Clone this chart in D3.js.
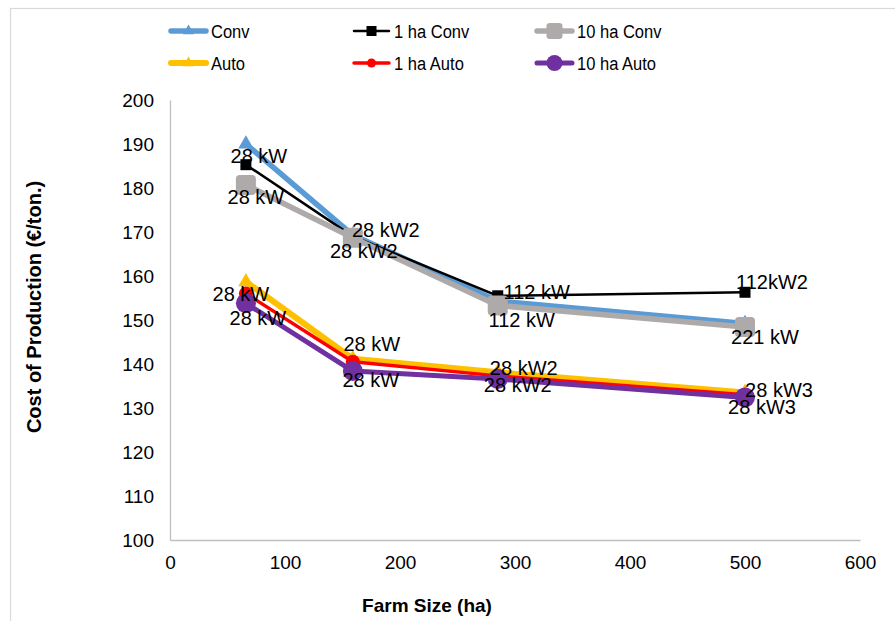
<!DOCTYPE html>
<html>
<head>
<meta charset="utf-8">
<script src="https://cdn.jsdelivr.net/npm/d3@7"></script>
<style>
  html, body { margin: 0; padding: 0; background: #fff; }
  svg { display: block; font-family: "Liberation Sans", Arial, sans-serif; }
</style>
</head>
<body>
<svg id="chart" width="895" height="621"></svg>
<script>
// ---------- data ----------
const farmSize = [66, 159, 285, 500];
const conv     = [190.0, 169.3, 154.3, 149.2];
const conv1ha  = [185.3, 169.0, 155.5, 156.3];
const conv10ha = [180.7, 168.7, 153.3, 148.4];
const auto     = [158.7, 141.2, 138.1, 133.5];
const auto1ha  = [156.0, 140.5, 137.3, 133.0];
const auto10ha = [153.8, 138.4, 136.6, 132.4];

const labels1haConv  = ["28 kW", "28 kW2", "112 kW", "112kW2"];
const labels10haConv = ["28 kW", "28 kW2", "112 kW", "221 kW"];
const labels1haAuto  = ["28 kW", "28 kW", "28 kW2", "28 kW3"];
const labels10haAuto = ["28 kW", "28 kW", "28 kW2", "28 kW3"];

const xTicks = [0, 100, 200, 300, 400, 500, 600];
const yTicks = [100, 110, 120, 130, 140, 150, 160, 170, 180, 190, 200];

const seriesNames = ["Conv", "1 ha Conv", "10 ha Conv", "Auto", "1 ha Auto", "10 ha Auto"];

// ---------- styles ----------
const styles = {
  "Conv":       {color: "#5b9bd5", width: 5.5, marker: "triangle", size: 15},
  "1 ha Conv":  {color: "#000000", width: 2.5, marker: "square",   size: 11},
  "10 ha Conv": {color: "#aeaaaa", width: 5.5, marker: "rsquare",  size: 20},
  "Auto":       {color: "#ffc000", width: 6,   marker: "triangle", size: 15},
  "1 ha Auto":  {color: "#ff0000", width: 3.5, marker: "circle",   size: 14},
  "10 ha Auto": {color: "#7030a0", width: 5,   marker: "circle",   size: 20}
};
const legendStyles = {
  "Conv":       {size: 11}, "1 ha Conv": {size: 10}, "10 ha Conv": {size: 16},
  "Auto":       {size: 11}, "1 ha Auto": {size: 9},  "10 ha Auto": {size: 16}
};
// label nudges (pixels from the anchoring point)
const nudge1haConv  = [[13, -8.5], [33, -7], [39, -4], [27, -10]];
const nudge10haConv = [[10, 12], [11, 13], [24, 14.5], [20, 10]];
const nudge1haAuto  = [[-5, 0], [19, -18], [26, -8], [34, -5]];
const nudge10haAuto = [[12, 15], [18, 9], [20, 6], [17, 9]];

const values = {
  "Conv": conv, "1 ha Conv": conv1ha, "10 ha Conv": conv10ha,
  "Auto": auto, "1 ha Auto": auto1ha, "10 ha Auto": auto10ha
};

// ---------- layout ----------
const svg = d3.select("#chart");
const plot = {left: 170, right: 860, top: 100, bottom: 540};
const x = d3.scaleLinear().domain([0, 600]).range([plot.left, plot.right]);
const y = d3.scaleLinear().domain([100, 200]).range([plot.bottom, plot.top]);

// outer frame
svg.append("rect")
  .attr("x", 10.5).attr("y", 8.5).attr("width", 900).attr("height", 640)
  .attr("fill", "none").attr("stroke", "#d9d9d9").attr("stroke-width", 1.2);

// axes
const axisColor = "#bfbfbf";
const yAxis = svg.append("g").attr("transform", `translate(${plot.left},0)`)
  .call(d3.axisLeft(y).tickValues(yTicks).tickSize(0).tickPadding(16));
const xAxis = svg.append("g").attr("transform", `translate(0,${plot.bottom})`)
  .call(d3.axisBottom(x).tickValues(xTicks).tickSize(0).tickPadding(16));
[xAxis, yAxis].forEach(g => {
  g.select(".domain").attr("stroke", axisColor).attr("stroke-width", 1.3);
  g.selectAll("text").attr("font-size", 19).attr("fill", "#000")
   .attr("font-family", "Liberation Sans, Arial, sans-serif");
});

// axis titles
svg.append("text")
  .attr("x", 427).attr("y", 612)
  .attr("text-anchor", "middle").attr("font-weight", "bold").attr("font-size", 19)
  .text("Farm Size (ha)");
svg.append("text")
  .attr("transform", "translate(41,307) rotate(-90)")
  .attr("text-anchor", "middle").attr("font-weight", "bold").attr("font-size", 20)
  .text("Cost of Production (€/ton.)");

// marker drawing
function drawMarker(g, type, size, color) {
  if (type === "triangle") {
    g.append("path").attr("d", d3.symbol().type(d3.symbolTriangle).size(size * size * 0.45)())
      .attr("fill", color);
  } else if (type === "square") {
    g.append("rect").attr("x", -size / 2).attr("y", -size / 2)
      .attr("width", size).attr("height", size).attr("fill", color);
  } else if (type === "rsquare") {
    g.append("rect").attr("x", -size / 2).attr("y", -size / 2)
      .attr("width", size).attr("height", size).attr("rx", size * 0.2)
      .attr("fill", color);
  } else {
    g.append("circle").attr("r", size / 2).attr("fill", color);
  }
}

// series
const line = d3.line().x(d => x(d[0])).y(d => y(d[1]));
seriesNames.forEach(name => {
  const st = styles[name];
  const pts = farmSize.map((f, i) => [f, values[name][i]]);
  const g = svg.append("g");
  g.append("path").attr("d", line(pts)).attr("fill", "none")
    .attr("stroke", st.color).attr("stroke-width", st.width)
    .attr("stroke-linejoin", "round").attr("stroke-linecap", "round");
  pts.forEach(p => {
    const m = g.append("g").attr("transform", `translate(${x(p[0])},${y(p[1])})`);
    drawMarker(m, st.marker, st.size, st.color);
  });
});

// data labels
function addLabels(series, texts, nudges) {
  texts.forEach((t, i) => {
    svg.append("text")
      .attr("x", x(farmSize[i]) + nudges[i][0])
      .attr("y", y(series[i]) + nudges[i][1])
      .attr("dy", "0.36em")
      .attr("text-anchor", "middle").attr("font-size", 20).attr("fill", "#000")
      .text(t);
  });
}
addLabels(conv1ha, labels1haConv, nudge1haConv);
addLabels(conv10ha, labels10haConv, nudge10haConv);
addLabels(auto1ha, labels1haAuto, nudge1haAuto);
addLabels(auto10ha, labels10haAuto, nudge10haAuto);

// legend
const legendCols = [170, 353, 536];
const legendRows = [31, 63];
seriesNames.forEach((name, i) => {
  const st = styles[name];
  const lx = legendCols[i % 3], ly = legendRows[Math.floor(i / 3)];
  const g = svg.append("g").attr("transform", `translate(${lx},${ly})`);
  g.append("line").attr("x1", 1).attr("x2", 36).attr("y1", 0).attr("y2", 0)
    .attr("stroke", st.color).attr("stroke-width", st.width)
    .attr("stroke-linecap", "round");
  const m = g.append("g").attr("transform", "translate(18.5,0)");
  drawMarker(m, st.marker, legendStyles[name].size, st.color);
  g.append("text").attr("transform", "translate(41,0) scale(0.87,1)")
    .attr("dy", "0.36em")
    .attr("font-size", 19).attr("fill", "#000").text(name);
});
</script>
</body>
</html>
